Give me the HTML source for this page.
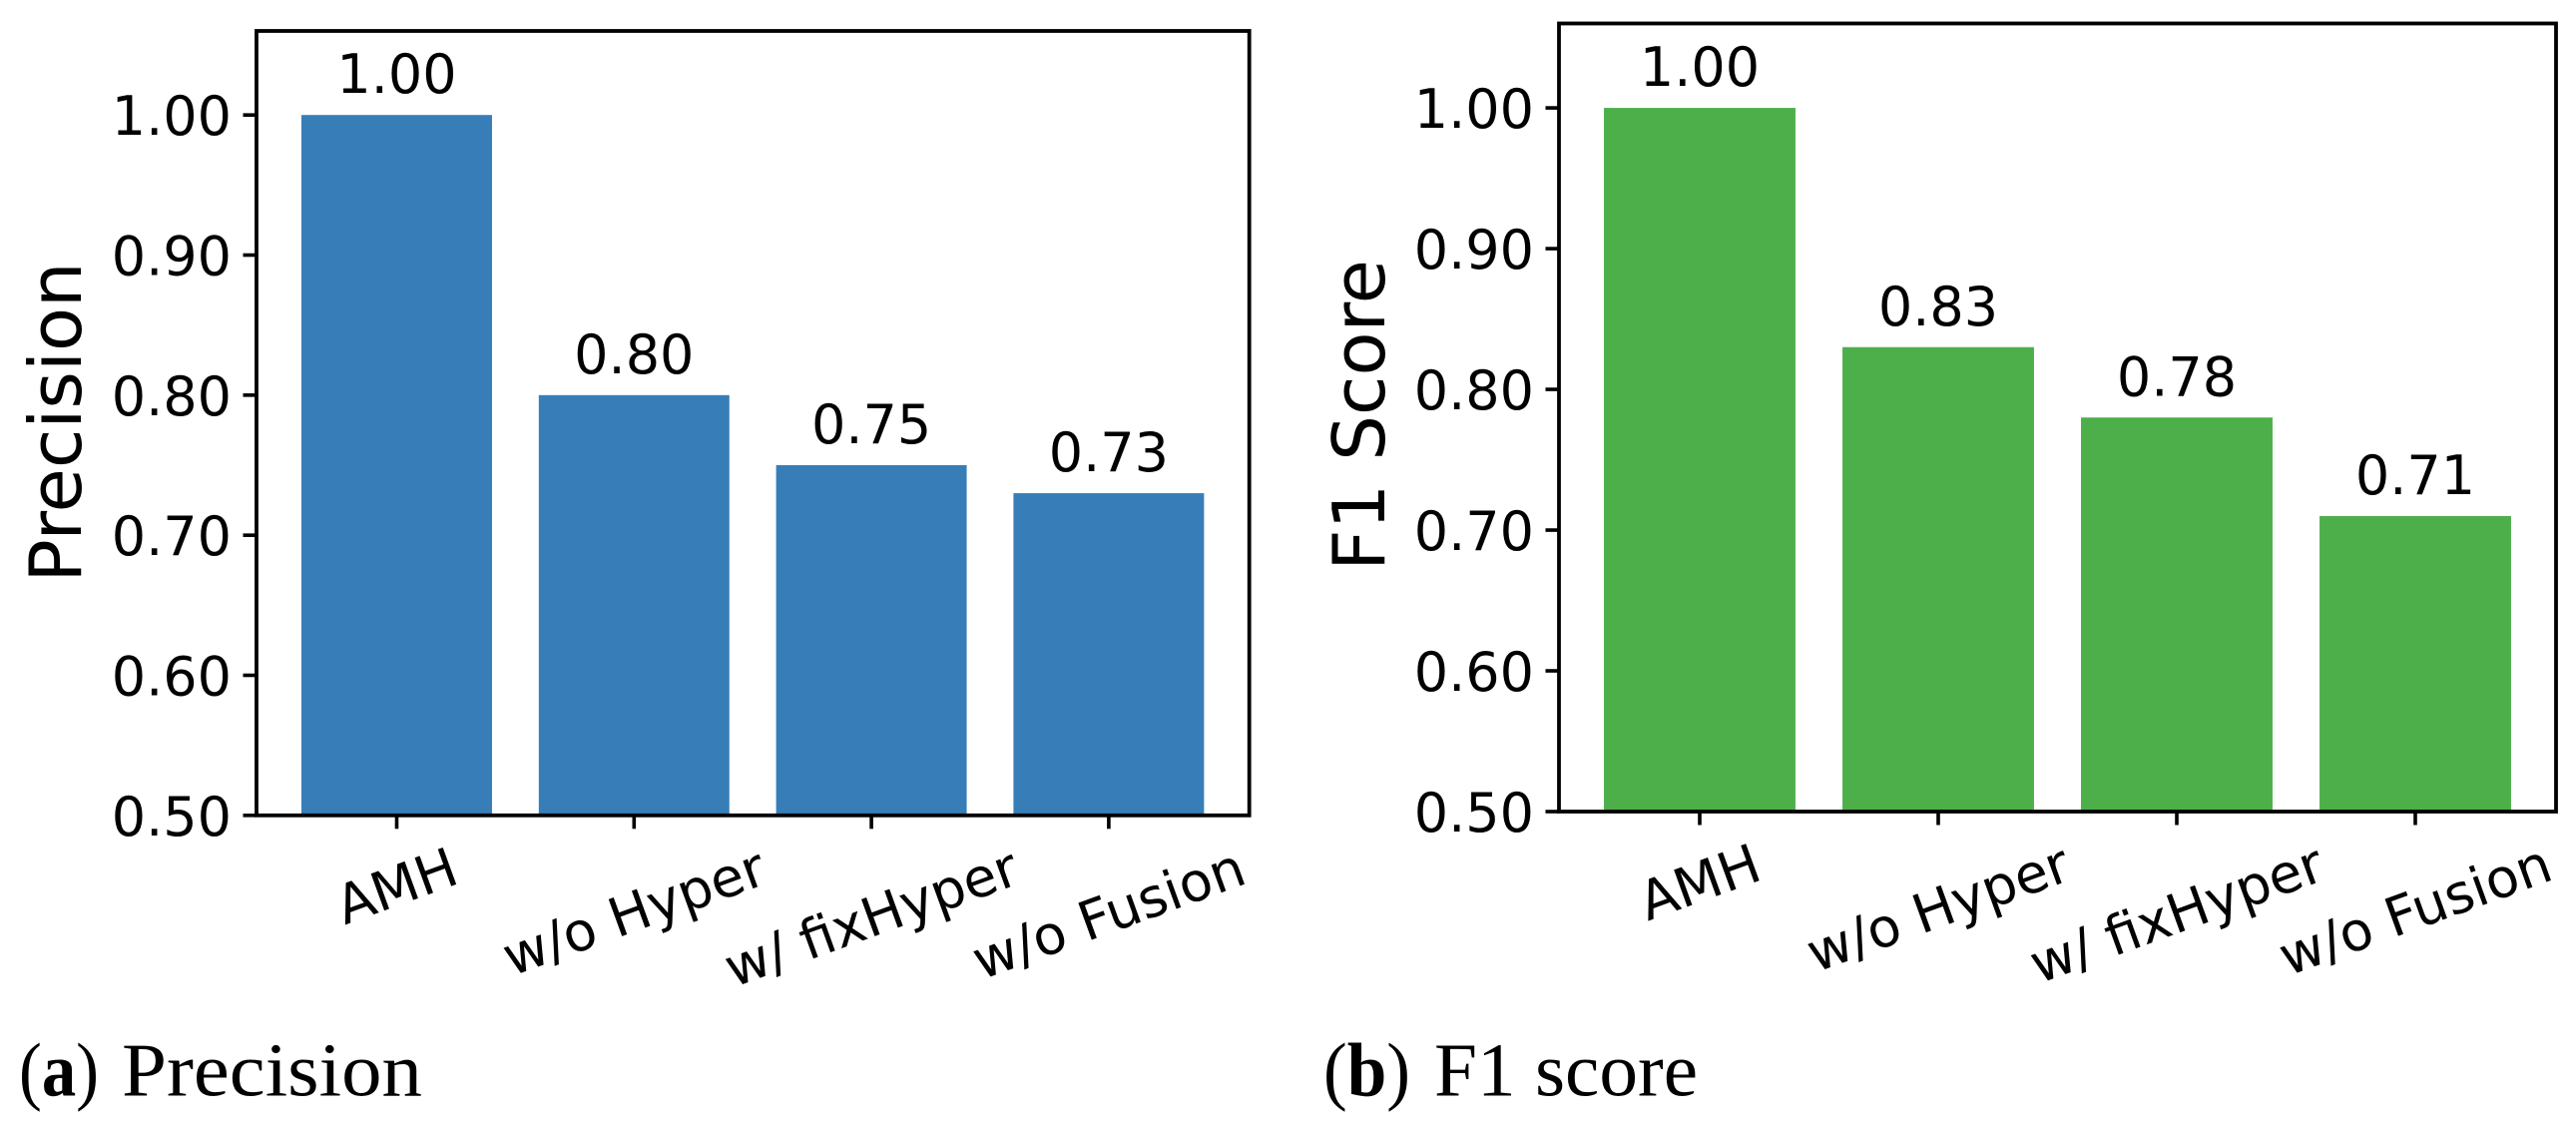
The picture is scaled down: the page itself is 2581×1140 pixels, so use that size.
<!DOCTYPE html>
<html lang="en">
<head>
<meta charset="utf-8">
<title>Precision and F1 score bar charts</title>
<style>
  html, body { margin: 0; padding: 0; background: #fff; }
  body { width: 2581px; height: 1140px; overflow: hidden; }
  svg { display: block; }
  text { fill: #000; }
  .dj { font-family: "DejaVu Sans", "Liberation Sans", sans-serif; }
  .cap { font-family: "Liberation Serif", serif; font-size: 76px; }
</style>
</head>
<body>
<svg id="figure" xmlns="http://www.w3.org/2000/svg" width="2581" height="1140" viewBox="0 0 2581 1140">
  <g>
    <text class="cap" x="19" y="1097.5" textLength="80" lengthAdjust="spacingAndGlyphs">(<tspan font-weight="bold">a</tspan>)</text>
    <text class="cap" x="122" y="1097.5" textLength="301" lengthAdjust="spacingAndGlyphs">Precision</text>
  </g>
  <g>
    <text class="cap" x="1326" y="1097.5" textLength="87" lengthAdjust="spacingAndGlyphs">(<tspan font-weight="bold">b</tspan>)</text>
    <text class="cap" x="1437" y="1097.5" textLength="264" lengthAdjust="spacingAndGlyphs">F1 score</text>
  </g>
</svg>
<script>
const categories = ["AMH", "w/o Hyper", "w/ fixHyper", "w/o Fusion"];
const precisionValues = [1.00, 0.80, 0.75, 0.73];
const f1Values = [1.00, 0.83, 0.78, 0.71];
const yTickValues = [0.50, 0.60, 0.70, 0.80, 0.90, 1.00];
const yDomain = [0.5, 1.06];

const SVG_NS = "http://www.w3.org/2000/svg";
const figure = document.getElementById("figure");

function make(parent, tag, attrs) {
  const el = document.createElementNS(SVG_NS, tag);
  for (const key in attrs) el.setAttribute(key, attrs[key]);
  parent.appendChild(el);
  return el;
}

function drawPanel(p) {
  const yScale = v => p.bottom - (v - yDomain[0]) / (yDomain[1] - yDomain[0]) * (p.bottom - p.top);
  const xScale = i => p.firstCenter + i * p.step;
  const barWidth = p.step * 0.803;
  const tickFont = 54;
  const lineWidth = 3.8;
  const tickWidth = 3.6;
  const tickLength = 13.5;

  const panel = make(figure, "g", {});
  
  

  // bars
  p.values.forEach((v, i) => {
    const bar = make(panel, "rect", {
      x: xScale(i) - barWidth / 2,
      y: yScale(v),
      width: barWidth,
      height: p.bottom - yScale(v),
      fill: p.color
    });
    
    

    const label = make(panel, "text", {
      class: "dj",
      x: xScale(i),
      y: yScale(v) - 22,
      "text-anchor": "middle",
      "font-size": tickFont
    });
    label.textContent = v.toFixed(2);
    
    
  });

  // plot frame
  const frame = make(panel, "rect", {
    x: p.left,
    y: p.top,
    width: p.right - p.left,
    height: p.bottom - p.top,
    fill: "none",
    stroke: "#000",
    "stroke-width": lineWidth
  });
  
  

  // y axis ticks and labels
  yTickValues.forEach(t => {
    const tick = make(panel, "line", {
      x1: p.left - tickLength,
      x2: p.left,
      y1: yScale(t),
      y2: yScale(t),
      stroke: "#000",
      "stroke-width": tickWidth
    });
    
    

    const tl = make(panel, "text", {
      class: "dj",
      x: p.left - 25,
      y: yScale(t) + 20,
      "text-anchor": "end",
      "font-size": tickFont
    });
    tl.textContent = t.toFixed(2);
    
    
  });

  // x axis ticks and rotated labels
  const angle = 20;
  const rad = angle * Math.PI / 180;
  categories.forEach((c, i) => {
    const tick = make(panel, "line", {
      x1: xScale(i),
      x2: xScale(i),
      y1: p.bottom,
      y2: p.bottom + tickLength,
      stroke: "#000",
      "stroke-width": tickWidth
    });
    
    

    const tl = make(panel, "text", {
      class: "dj",
      x: 0,
      y: 0,
      "text-anchor": "middle",
      "font-size": tickFont
    });
    tl.textContent = c;
    
    
    const len = tl.getComputedTextLength();
    const boxHeight = tickFont * 0.95;
    const halfRotated = (len * Math.sin(rad) + boxHeight * Math.cos(rad)) / 2;
    const cy = p.bottom + 26 + halfRotated;
    const baseX = xScale(i) + tickFont * 0.34 * Math.sin(rad);
    const baseY = cy + tickFont * 0.34 * Math.cos(rad);
    tl.setAttribute("transform", "translate(" + baseX + " " + baseY + ") rotate(" + (-angle) + ")");
  });

  // y axis title
  const yt = make(panel, "text", {
    class: "dj",
    "text-anchor": "middle",
    "font-size": 72,
    transform: "translate(" + p.titleX + " " + p.titleY + ") rotate(-90)"
  });
  yt.textContent = p.title;
  
  
}

drawPanel({
  name: "precision", title: "Precision", values: precisionValues, color: "#377eb8",
  left: 257, right: 1251.7, top: 31, bottom: 816.8,
  firstCenter: 397.5, step: 237.8, titleX: 81, titleY: 423
});
drawPanel({
  name: "f1", title: "F1 Score", values: f1Values, color: "#4daf4a",
  left: 1562, right: 2561, top: 23.5, bottom: 813,
  firstCenter: 1703, step: 239, titleX: 1387, titleY: 416
});
</script>
</body>
</html>
